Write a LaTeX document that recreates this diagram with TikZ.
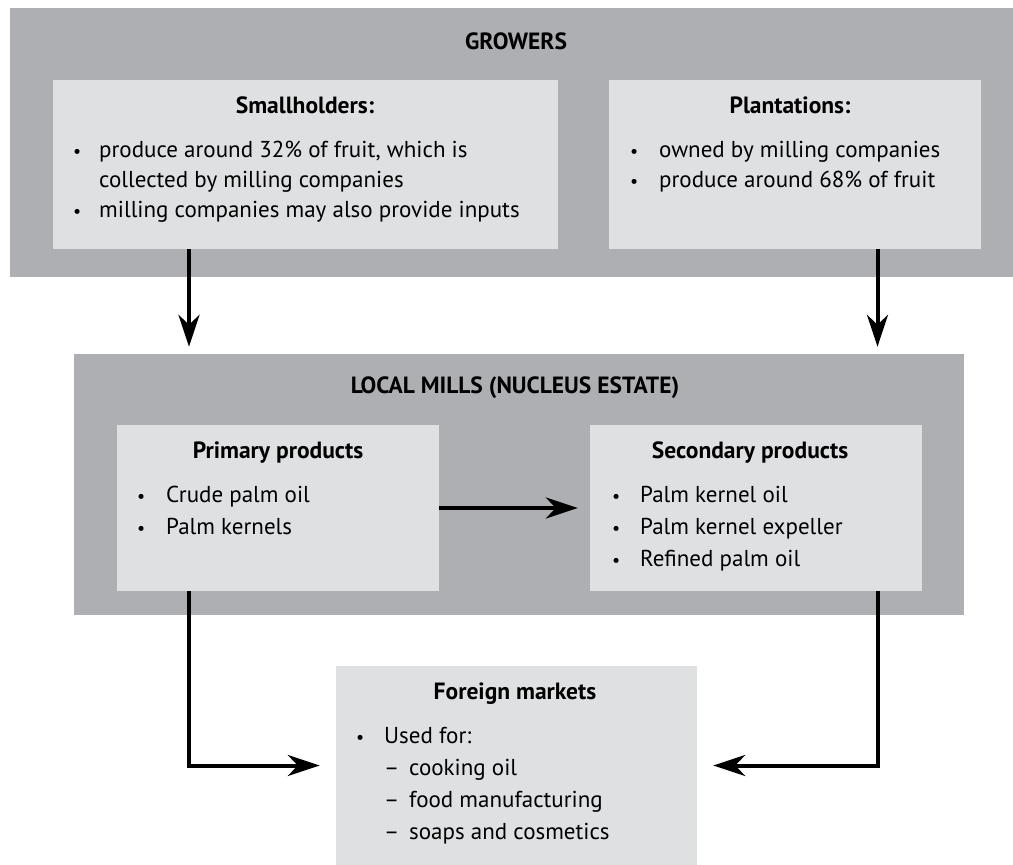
\documentclass[tikz,border=0pt]{standalone}
\usepackage{fontspec}
\setmainfont{PT Sans}
\usetikzlibrary{arrows.meta}
\definecolor{outergray}{HTML}{AEAFB3}
\definecolor{innergray}{HTML}{DFE0E2}
\begin{document}
\begin{tikzpicture}[x=1pt,y=-1pt,
  ttl/.style={font=\fontsize{23.5}{28}\selectfont\bfseries,anchor=mid,inner sep=0pt},
  txt/.style={font=\fontsize{23}{28}\selectfont,anchor=mid west,inner sep=0pt},
  blt/.style={font=\fontsize{18}{28}\selectfont,anchor=mid west,inner sep=0pt},
  arr/.style={line width=4pt,-{Stealth[length=32pt,width=21pt,inset=10pt]}}]
\useasboundingbox (0,0) rectangle (1013,865);
% boxes
\node[fill=outergray,inner sep=0pt,minimum width=1003pt,minimum height=269pt] (gr) at (511.5,142.5) {};
\node[fill=innergray,inner sep=0pt,minimum width=505pt,minimum height=169pt] (sh) at (305.5,164.5) {};
\node[fill=innergray,inner sep=0pt,minimum width=372pt,minimum height=169pt] (pl) at (795,164.5) {};
\node[fill=outergray,inner sep=0pt,minimum width=890pt,minimum height=261pt] (lm) at (519,484.5) {};
\node[fill=innergray,inner sep=0pt,minimum width=322pt,minimum height=166pt] (pp) at (278,508) {};
\node[fill=innergray,inner sep=0pt,minimum width=332pt,minimum height=166pt] (sp) at (756,508) {};
\node[fill=innergray,inner sep=0pt,minimum width=361pt,minimum height=199pt] (fm) at (516.5,765.5) {};
% titles
\node[ttl] (grt) at (516,47) {GROWERS};
\node[ttl] (sht) at (305,111) {Smallholders:};
\node[ttl] (plt) at (790,111) {Plantations:};
\node[ttl] (lmt) at (515,391) {LOCAL MILLS (NUCLEUS ESTATE)};
\node[ttl] (ppt) at (278,456) {Primary products};
\node[ttl] (spt) at (750,456) {Secondary products};
\node[ttl] (fmt) at (515,697) {Foreign markets};
% smallholders text
\node[blt] (shb1) at (73,155) {•};
\node[txt] (sh1) at (99,155) {produce around 32\% of fruit, which is};
\node[txt] (sh2) at (99,185) {collected by milling companies};
\node[blt] (shb2) at (73,215) {•};
\node[txt] (sh3) at (99,215) {milling companies may also provide inputs};
% plantations text
\node[blt] (plb1) at (630,155) {•};
\node[txt] (pl1) at (659,155) {owned by milling companies};
\node[blt] (plb2) at (630,185) {•};
\node[txt] (pl2) at (659,185) {produce around 68\% of fruit};
% primary
\node[blt] (ppb1) at (137,500) {•};
\node[txt] (pp1) at (166,500) {Crude palm oil};
\node[blt] (ppb2) at (137,532) {•};
\node[txt] (pp2) at (166,532) {Palm kernels};
% secondary
\node[blt] (spb1) at (612,500) {•};
\node[txt] (sp1) at (640,500) {Palm kernel oil};
\node[blt] (spb2) at (612,532) {•};
\node[txt] (sp2) at (640,532) {Palm kernel expeller};
\node[blt] (spb3) at (612,564) {•};
\node[txt] (sp3) at (640,564) {Refined palm oil};
% foreign
\node[blt] (fmb1) at (356,741) {•};
\node[txt] (fm1) at (384,741) {Used for:};
\node[txt] (fmd1) at (384,773) {–};
\node[txt] (fm2) at (409,773) {cooking oil};
\node[txt] (fmd2) at (384,805) {–};
\node[txt] (fm3) at (409,805) {food manufacturing};
\node[txt] (fmd3) at (384,837) {–};
\node[txt] (fm4) at (409,837) {soaps and cosmetics};
% connectors
\coordinate (a1) at ([xshift=-116.5pt]sh.south);
\coordinate (a2) at ([xshift=82.5pt]pl.south);
\draw[arr,shorten >=7pt] (a1) -- (a1 |- lm.north);
\draw[arr,shorten >=7pt] (a2) -- (a2 |- lm.north);
\draw[arr,shorten >=12pt] (pp.east) -- (sp.west);
\coordinate (b1) at ([xshift=-89pt]pp.south);
\coordinate (b2) at ([xshift=122pt]sp.south);
\draw[arr,shorten >=16pt] (b1) |- (fm.west);
\draw[arr,shorten >=16pt] (b2) |- (fm.east);
\end{tikzpicture}
\end{document}
